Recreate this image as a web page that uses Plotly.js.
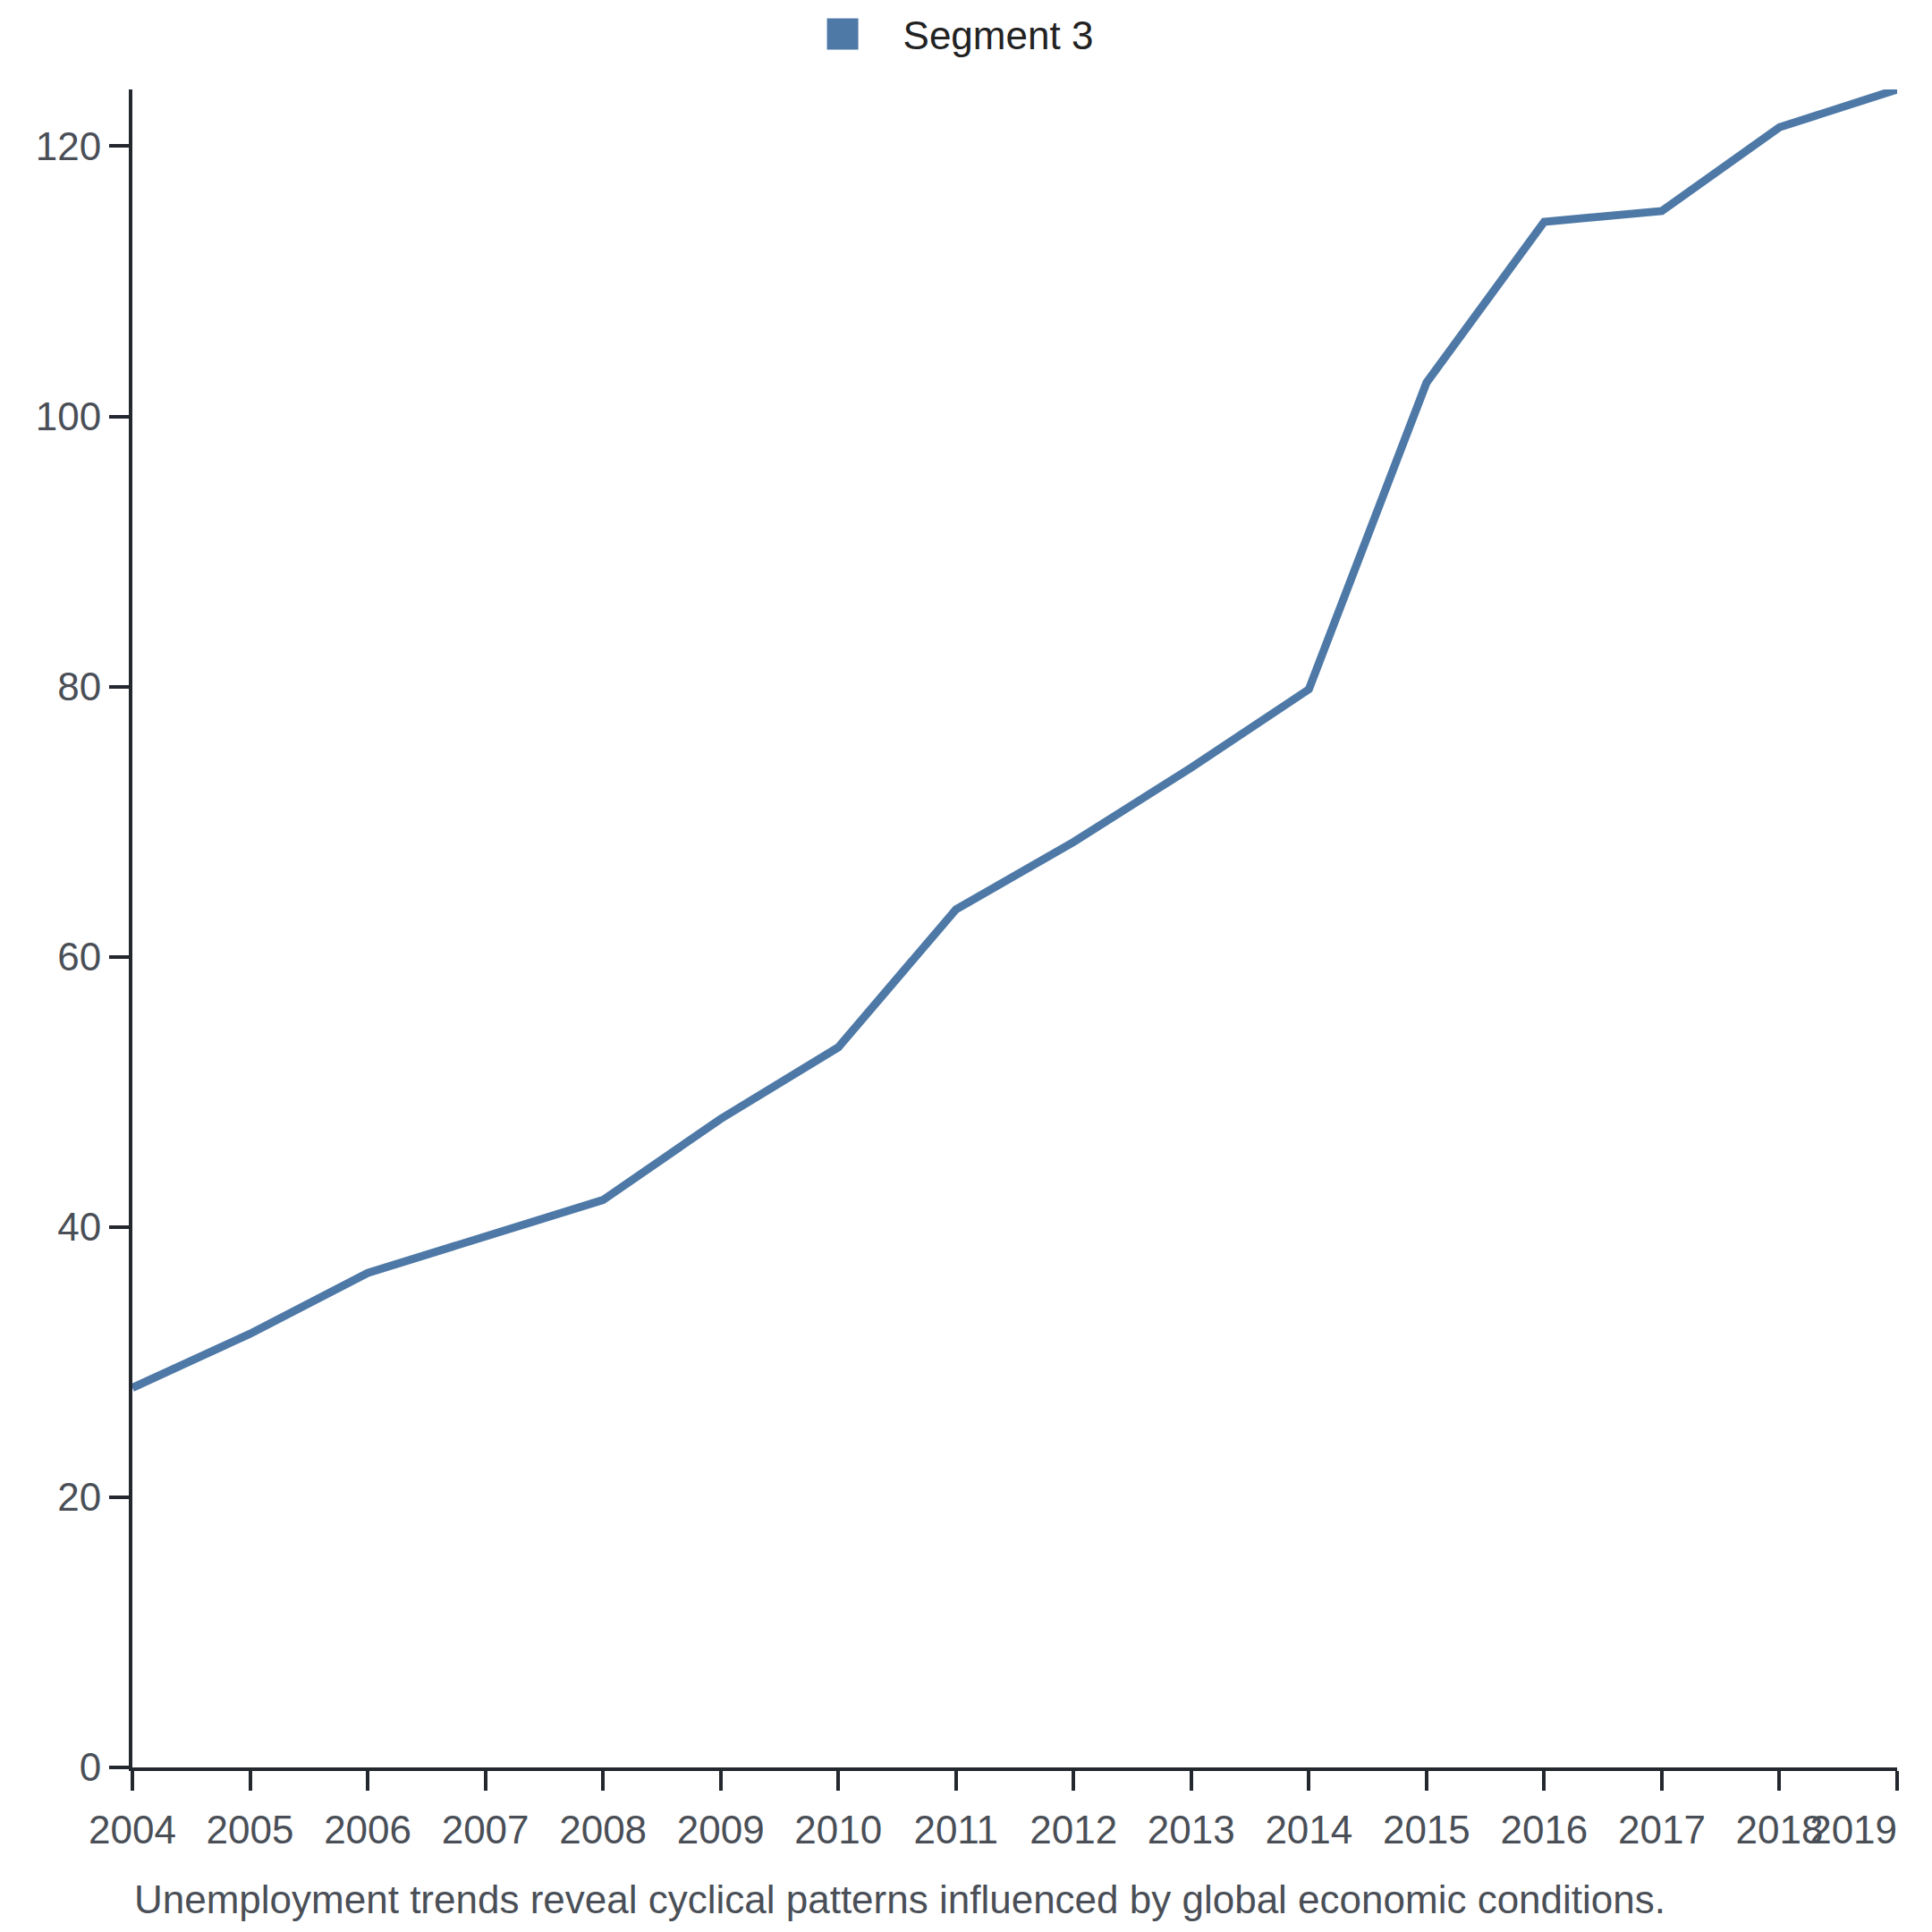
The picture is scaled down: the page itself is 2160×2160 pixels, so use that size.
<!DOCTYPE html>
<html>
<head>
<meta charset="utf-8">
<script src="https://cdn.plot.ly/plotly-3.0.1.min.js"></script>
<style>
  html, body { margin: 0; padding: 0; background: #ffffff; }
  #chart { width: 2160px; height: 2160px; }
</style>
</head>
<body>
<div id="chart"></div>
<script>
// data
const years = [2004, 2005, 2006, 2007, 2008, 2009, 2010, 2011,
               2012, 2013, 2014, 2015, 2016, 2017, 2018, 2019];
const segment3 = [28.1, 32.1, 36.6, 39.3, 42.0, 48.0, 53.3, 63.5,
                  68.5, 74.0, 79.8, 102.5, 114.4, 115.2, 121.4, 124.2];
const seriesName = 'Segment 3';
const yTicks = [0, 20, 40, 60, 80, 100, 120];
const caption = 'Unemployment trends reveal cyclical patterns influenced by global economic conditions.';

// last year label sits flush with the right end of the axis
const xTickText = years.map((y, i) =>
    i === years.length - 1 ? String(y) + '\u00a0'.repeat(8) : String(y));

const FONT = '"Liberation Sans", Arial, Helvetica, sans-serif';
const BLUE = '#4e79a7';
const AXIS = '#23272e';
const TICK_TEXT = '#4a4f57';
const LEGEND_SWATCH = 35;   // px, side of the square legend swatch

const lineTrace = {
    type: 'scatter',
    mode: 'lines',
    x: years,
    y: segment3,
    name: seriesName,
    showlegend: false,
    line: { color: BLUE, width: 9 },
    hoverinfo: 'x+y'
};

// legend entry drawn as a square swatch
const legendTrace = {
    type: 'scatter',
    mode: 'markers',
    x: [null],
    y: [null],
    name: seriesName,
    marker: { symbol: 'square', size: 16, color: BLUE, line: { width: 0 } },
    hoverinfo: 'skip'
};

const axisStyle = {
    ticks: 'outside',
    ticklen: 22,
    tickwidth: 4,
    tickcolor: AXIS,
    showline: true,
    linecolor: AXIS,
    linewidth: 4,
    showgrid: false,
    zeroline: false,
    tickfont: { family: FONT, size: 44, color: TICK_TEXT }
};

const layout = {
    width: 2160,
    height: 2160,
    paper_bgcolor: '#ffffff',
    plot_bgcolor: '#ffffff',
    font: { family: FONT, size: 44, color: TICK_TEXT },
    margin: { l: 148, r: 39, t: 100, b: 184, pad: 0 },
    showlegend: true,
    legend: {
        orientation: 'h',
        xref: 'container', yref: 'container',
        x: 0.4866, xanchor: 'center',
        y: 0.9986, yanchor: 'top',
        itemwidth: 125,
        font: { family: FONT, size: 44, color: '#222222' },
        bgcolor: 'rgba(0,0,0,0)'
    },
    xaxis: Object.assign({}, axisStyle, {
        range: [years[0], years[years.length - 1]],
        tickmode: 'array',
        tickvals: years,
        ticktext: xTickText,
        tickangle: 0,
        ticklabeloverflow: 'allow',
        ticklabelstandoff: 6
    }),
    yaxis: Object.assign({}, axisStyle, {
        range: [0, 124.2],
        tickmode: 'array',
        tickvals: yTicks
    }),
    annotations: [{
        text: caption,
        xref: 'paper', yref: 'paper',
        x: 0, xanchor: 'left',
        y: -0.0645, yanchor: 'top',
        showarrow: false,
        font: { family: FONT, size: 44, color: TICK_TEXT }
    }]
};

Plotly.newPlot('chart', [lineTrace, legendTrace], layout, {
    displayModeBar: false,
    responsive: false,
    staticPlot: true
}).then(gd => {
    // plotly caps legend marker size at 16px, so enlarge the swatch
    const k = LEGEND_SWATCH / 16;
    gd.querySelectorAll('.legend .legendpoints path.scatterpts').forEach(p => {
        const t = p.getAttribute('transform') || '';
        p.setAttribute('transform', t + ' scale(' + k + ')');
    });
});
</script>
</body>
</html>
